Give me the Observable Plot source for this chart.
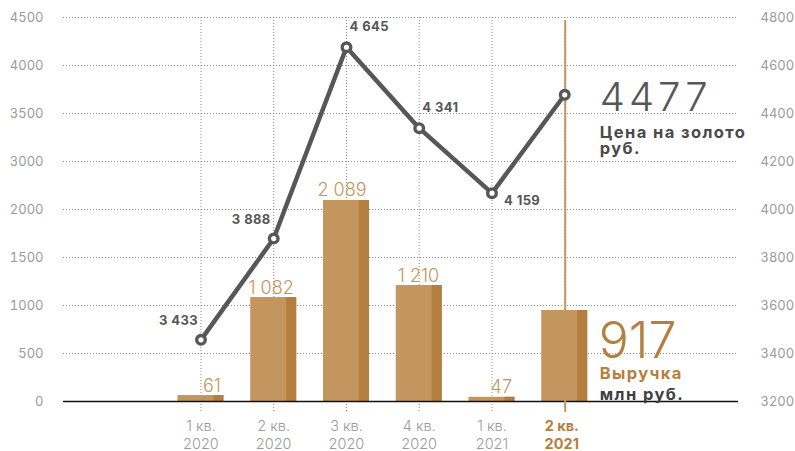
<!DOCTYPE html>
<html><head><meta charset="utf-8">
<script src="https://cdn.jsdelivr.net/npm/d3@7"></script>
<script src="https://cdn.jsdelivr.net/npm/@observablehq/plot@0.6"></script>
<style>
html,body{margin:0;padding:0;background:#fff;}
#chart svg{display:block;}
</style></head><body><div id="chart"></div>
<script>
// ---- data ----
const quarters = ["1 кв.\n2020","2 кв.\n2020","3 кв.\n2020","4 кв.\n2020","1 кв.\n2021","2 кв.\n2021"];
const revenue = [62, 1083, 2094, 1208, 44, 948];           // bar heights as drawn (left axis)
const revenueLabels = ["61","1 082","2 089","1 210","47","917"];
const gold = [3457, 3879, 4676, 4339, 4068, 4478];           // line points as drawn (right axis)
const goldLabels = ["3 433","3 888","4 645","4 341","4 159","4477"];
const goldLabelSide = ["nw","nw","ne","ne","se","big"];
const leftTickLabels = ["0","500","1000","1500","2000","3000","3500","4000","4500"];
const rightTickLabels = [3200,3400,3600,3800,4000,4200,4400,4600,4800];
const goldTitle = "Цена на золото\nруб.";
const revTitle = "Выручка";
const revUnit = "млн руб.";

const leftTicks = d3.range(0, 4001, 500);
const goldToRev = d3.scaleLinear([3200, 4800], [0, 4000]);

const data = quarters.map((q, i) => ({
  i, q, rev: revenue[i], revLabel: revenueLabels[i],
  goldY: goldToRev(gold[i]), goldLabel: goldLabels[i], side: goldLabelSide[i]
}));
const last = data.filter(d => d.i === data.length - 1);

const grey = "#9a9a9a", lineCol = "#575757", barLight = "#c3955f", barDark = "#b47f3e", brown = "#b5803f";

const chart = Plot.plot({
  width: 795, height: 451,
  marginTop: 17, marginBottom: 50, marginLeft: 63, marginRight: 57,
  style: {fontFamily: "Inter, 'Open Sans', sans-serif", fontSize: "13px", background: "#fff"},
  x: {type: "band", domain: quarters, range: [150.7, 614], padding: 0.368, round: false},
  y: {domain: [0, 4000]},
  marks: [
    Plot.ruleY(leftTicks, {stroke: "#8a8a8a", strokeDasharray: "1,2", strokeWidth: 1}),
    Plot.ruleX(quarters, {stroke: "#8a8a8a", strokeDasharray: "1,2", strokeWidth: 1}),
    Plot.axisX({tickSize: 11, tickFormat: () => "", color: "#8a8a8a", strokeDasharray: "1,2", label: null}),
    Plot.barY(data, {x: "q", y: "rev", fill: barLight}),
    Plot.barY(data, {x: "q", y: "rev", fill: barDark, insetLeft: 36}),
    Plot.ruleY([0], {stroke: "#111", strokeWidth: 1.5}),
    Plot.ruleX(last, {x: "q", stroke: "#c49461", strokeWidth: 2, dx: 0.5, insetTop: 3, insetBottom: -11}),
    Plot.line(data, {x: "q", y: "goldY", stroke: lineCol, strokeWidth: 4.5}),
    Plot.dot(data, {x: "q", y: "goldY", r: 4.3, fill: "#fff", stroke: lineCol, strokeWidth: 3.4}),
    // bar value labels
    Plot.text(data.filter(d => d.i < 5), {x: "q", y: "rev", text: "revLabel", textAnchor: "end", lineAnchor: "bottom",
      dx: 20, dy: -4, fontSize: 18, fontWeight: 300, fill: "#c8935a"}),
    // gold labels
    Plot.text(data.filter(d => d.side === "nw"), {x: "q", y: "goldY", text: "goldLabel", textAnchor: "end",
      dx: -3, dy: -19, fontSize: 13, fontWeight: "bold", fill: lineCol}),
    Plot.text(data.filter(d => d.side === "ne"), {x: "q", y: "goldY", text: "goldLabel", textAnchor: "start",
      dx: 3, dy: -20, fontSize: 13, fontWeight: "bold", fill: lineCol}),
    Plot.text(data.filter(d => d.side === "se"), {x: "q", y: "goldY", text: "goldLabel", textAnchor: "start",
      dx: 12, dy: 8, fontSize: 13, fontWeight: "bold", fill: lineCol}),
    // big annotations
    Plot.text(last, {x: "q", y: "goldY", text: "goldLabel", textAnchor: "start", lineAnchor: "top",
      dx: 35, dy: -12, fontSize: 40, fontWeight: 300, fill: lineCol}),
    Plot.text(last, {x: "q", y: "goldY", text: () => goldTitle, textAnchor: "start", lineAnchor: "top",
      dx: 35, dy: 32, fontSize: 16.5, fontWeight: "bold", fill: "#4a4a4a", lineHeight: 0.95}),
    Plot.text(last, {x: "q", y: "rev", text: "revLabel", textAnchor: "start", lineAnchor: "top",
      dx: 34, dy: 12, fontSize: 50, fontWeight: 300, fill: brown}),
    Plot.text(last, {x: "q", y: "rev", text: () => revTitle, textAnchor: "start", lineAnchor: "top",
      dx: 35, dy: 57, fontSize: 16.5, fontWeight: "bold", fill: brown}),
    Plot.text(last, {x: "q", y: "rev", text: () => revUnit, textAnchor: "start", lineAnchor: "top",
      dx: 35, dy: 78, fontSize: 16.5, fontWeight: "bold", fill: "#3f3f3f"}),
    // x labels
    Plot.text(data.filter(d => d.i < 5), {x: "q", text: "q", frameAnchor: "bottom", lineAnchor: "top",
      dy: 17, fontSize: 14.5, fontWeight: 300, fill: grey, lineHeight: 1.22}),
    Plot.text(last, {x: "q", text: "q", frameAnchor: "bottom", lineAnchor: "top", dx: -3,
      dy: 17, fontSize: 14.5, fontWeight: "bold", fill: brown, lineHeight: 1.22}),
    // axes
    Plot.axisY(leftTicks, {anchor: "left", tickSize: 0, tickPadding: 20, color: grey, label: null,
      tickFormat: d => leftTickLabels[leftTicks.indexOf(d)]}),
    Plot.axisY(rightTickLabels.map(goldToRev), {anchor: "right", tickSize: 0, tickPadding: 22, color: grey, label: null,
      tickFormat: d => String(Math.round(goldToRev.invert(d)))})
  ]
});
// letter-spacing tweaks for the wide display type of the reference
const spacing = new Map([[goldLabels[5], "4px"], [revTitle, "1.4px"], [revUnit, "1.4px"]]);
d3.select(chart).selectAll("text").each(function() {
  const t = this.textContent;
  if (spacing.has(t)) this.setAttribute("letter-spacing", spacing.get(t));
  if (goldLabels.slice(0, 5).includes(t)) this.setAttribute("letter-spacing", "0.4px");
});
d3.select(chart).selectAll("tspan").each(function() {
  if (this.textContent === "Цена на золото" || this.textContent === "руб.") this.setAttribute("letter-spacing", "1.4px");
});
document.getElementById("chart").appendChild(chart);
</script></body></html>
